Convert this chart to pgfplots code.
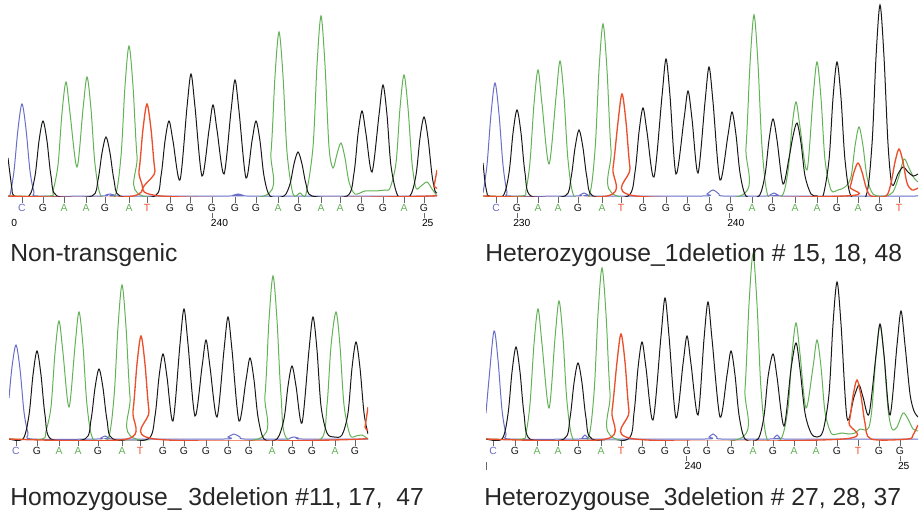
\documentclass[border=0pt]{standalone}
\usepackage{fontspec}
\setmainfont{Liberation Sans}
\usepackage{pgfplots}
\pgfplotsset{compat=1.18}
\definecolor{cA}{RGB}{100,178,88}
\definecolor{cC}{RGB}{105,110,200}
\definecolor{cG}{RGB}{25,25,25}
\definecolor{cT}{RGB}{235,80,45}
\newcommand\lA{\textcolor{cA}{A}}
\newcommand\lC{\textcolor{cC}{C}}
\newcommand\lG{\textcolor{cG}{G}}
\newcommand\lT{\textcolor{cT}{T}}
\pgfplotsset{panel/.style={x=0.75pt,y=0.75pt,ymin=-1,anchor=south west,
  axis line style={draw=none},ytick=\empty,xtick pos=left,tick align=outside,
  major tick length=4.5pt,xtick style={black!60,line width=0.5pt},
  xticklabel style={font=\fontsize{7.8}{8}\selectfont,inner sep=0pt,yshift=-1pt},
  clip=true,
  every axis plot/.append style={line width=0.75pt,smooth,tension=0.5,no marks}},
  redtrace/.style={cT,line width=1pt}}
\begin{document}
\begin{tikzpicture}
% ---------------- Panel 1 ----------------
\begin{axis}[panel,at={(6pt,237.75pt)},xmin=8,xmax=437,ymax=196,
  xtick={22,43,64,86,105,129,147,170,190,212,235,256,278,298,321,340,361,383,404,424},
  xticklabels={\lC,\lG,\lA,\lA,\lG,\lA,\lT,\lG,\lG,\lG,\lG,\lG,\lA,\lG,\lA,\lA,\lG,\lG,\lA,\lG}]
\addplot[cC] coordinates {(8,0)(10,1)(14,25)(18,67)(22,92)(26,67)(30,25)(34,4)(38,0)(102,0)(106,1)(110,2)(114,1)(118,0)(230,0)(234,1)(238,2)(242,1)(246,0)(437,0)};
\addplot[cA] coordinates {(8,0)(50,0)(53,5)(58,31)(62,83)(66,114)(70,83)(77,29)(83,87)(87,119)(91,87)(95,32)(101,0)(115,0)(121,40)(125,110)(129,150)(133,110)(137,40)(143,0)(264,0)(271,44)(275,120)(279,164)(283,120)(287,44)(293,2)(300,3)(306,2)(313,49)(317,131)(321,180)(325,131)(329,49)(333,28)(337,42)(341,53)(345,38)(349,14)(355,2)(365,5)(375,5)(385,6)(390,8)(396,33)(400,88)(404,121)(408,88)(412,33)(416,8)(421,10)(427,14)(432,7)(437,0)};
\addplot[cG] coordinates {(8,38)(10,22)(12,7)(14,0)(29,0)(35,20)(39,55)(43,75)(47,55)(51,20)(57,0)(92,0)(98,16)(102,43)(106,59)(110,43)(114,16)(120,0)(155,0)(161,20)(165,55)(169,75)(173,55)(180,16)(187,89)(191,122)(195,89)(202,20)(209,66)(213,91)(217,66)(224,22)(231,85)(235,116)(239,85)(246,18)(252,55)(256,75)(260,55)(264,20)(270,0)(284,0)(290,12)(294,32)(298,44)(302,32)(306,12)(312,0)(347,0)(354,23)(358,62)(362,85)(366,62)(372,24)(379,81)(383,111)(387,81)(391,30)(398,0)(410,0)(416,21)(420,58)(424,79)(428,58)(432,21)(435,5)(437,3)};
\addplot[redtrace] coordinates {(8,0)(133,0)(139,25)(143,67)(147,92)(151,67)(155,25)(161,0)(431,0)(434,10)(437,26)};
\end{axis}
% ---------------- Panel 2 ----------------
\begin{axis}[panel,at={(362.25pt,237.75pt)},xmin=483,xmax=918,ymax=196,
  xtick={496,517,538,558,578,602,621,643,666,687,709,730,752,772,795,817,837,858,879,899},
  xticklabels={\lC,\lG,\lA,\lA,\lG,\lA,\lT,\lG,\lG,\lG,\lG,\lG,\lA,\lG,\lA,\lA,\lG,\lA,\lG,\lT}]
\addplot[cC] coordinates {(483,3)(487,31)(491,82)(495,113)(499,82)(503,31)(507,4)(511,0)(576,0)(580,1)(584,3)(588,1)(592,0)(703,0)(707,2)(713,6)(719,2)(723,0)(766,0)(770,1)(774,3)(778,1)(782,0)(918,0)};
\addplot[cA] coordinates {(483,0)(522,0)(526,6)(530,34)(534,92)(538,126)(542,92)(549,32)(556,99)(560,135)(564,99)(568,36)(574,0)(589,0)(595,46)(599,126)(603,172)(607,126)(611,46)(617,0)(740,0)(746,49)(750,132)(754,181)(758,132)(762,49)(768,0)(782,0)(788,25)(792,69)(796,94)(800,69)(807,26)(813,98)(817,134)(821,98)(825,36)(831,6)(838,6)(845,9)(851,19)(855,50)(859,69)(863,50)(867,19)(873,2)(885,0)(893,4)(899,20)(904,37)(909,28)(914,18)(918,14)};
\addplot[cG] coordinates {(483,33)(485,14)(487,3)(489,0)(503,0)(509,23)(513,63)(517,86)(521,63)(525,23)(531,0)(565,0)(571,18)(575,48)(579,66)(583,48)(587,18)(593,0)(628,0)(635,24)(639,64)(643,88)(647,64)(654,19)(662,100)(666,137)(670,100)(676,22)(684,77)(688,105)(692,77)(698,23)(705,94)(709,129)(713,94)(720,16)(728,61)(732,84)(736,61)(740,23)(746,0)(759,0)(765,21)(769,56)(773,77)(777,56)(783,12)(789,38)(793,60)(797,73)(801,53)(805,20)(811,2)(817,0)(823,0)(829,36)(833,98)(837,134)(841,98)(845,36)(851,0)(866,0)(872,52)(876,139)(880,191)(884,139)(888,52)(892,11)(898,22)(903,29)(908,24)(913,20)(918,22)};
\addplot[redtrace] coordinates {(483,0)(607,0)(613,28)(618,74)(622,102)(626,74)(630,28)(636,0)(845,0)(850,9)(854,24)(858,33)(862,24)(866,9)(871,0)(886,0)(891,13)(895,34)(899,47)(903,34)(907,13)(912,6)(918,8)};
\end{axis}
% ---------------- Panel 3 ----------------
\begin{axis}[panel,at={(6.75pt,55.5pt)},xmin=9,xmax=368,ymax=200,
  xtick={16,37,59,78,98,122,140,163,184,206,228,249,272,292,312,335,355},
  xticklabels={\lC,\lG,\lA,\lA,\lG,\lA,\lT,\lG,\lG,\lG,\lG,\lG,\lA,\lG,\lG,\lA,\lG}]
\addplot[cC] coordinates {(9,41)(12,72)(16,94)(20,70)(24,27)(28,6)(32,0)(97,0)(101,1)(105,3)(109,1)(113,0)(224,0)(228,2)(234,5)(240,2)(244,0)(286,0)(290,1)(294,2)(298,1)(302,0)(368,0)};
\addplot[cA] coordinates {(9,0)(42,0)(46,8)(51,32)(55,86)(59,118)(63,86)(69,32)(75,93)(79,127)(83,93)(87,34)(93,0)(108,0)(114,42)(118,112)(122,154)(126,112)(130,42)(136,0)(258,0)(265,44)(269,119)(273,163)(277,119)(281,44)(287,0)(321,0)(327,34)(331,93)(336,127)(340,93)(344,34)(350,4)(356,3)(362,4)(368,0)};
\addplot[cG] coordinates {(9,0)(23,0)(29,24)(33,64)(37,88)(41,64)(45,24)(51,0)(85,0)(91,19)(95,51)(99,70)(103,51)(107,19)(113,0)(148,0)(155,23)(159,62)(163,85)(167,62)(173,18)(180,95)(184,130)(188,95)(195,23)(202,72)(206,99)(210,72)(217,22)(224,89)(228,122)(232,89)(239,18)(246,59)(250,81)(254,59)(258,22)(264,0)(277,0)(284,20)(288,53)(292,73)(296,53)(302,16)(309,89)(313,122)(317,89)(321,33)(327,6)(334,2)(342,4)(348,26)(352,71)(356,97)(360,71)(364,26)(368,5)};
\addplot[redtrace] coordinates {(9,0)(127,0)(133,28)(137,75)(141,103)(145,75)(149,28)(155,0)(362,0)(365,12)(368,32)};
\end{axis}
% ---------------- Panel 4 ----------------
\begin{axis}[panel,at={(364.5pt,55.5pt)},xmin=486,xmax=918,ymax=200,
  xtick={493,515,537,558,578,601,621,642,665,687,707,731,753,773,794,816,837,858,879,900},
  xticklabels={\lC,\lG,\lA,\lA,\lG,\lA,\lT,\lG,\lG,\lG,\lG,\lG,\lA,\lG,\lA,\lA,\lG,\lT,\lG,\lG}]
\addplot[cC] coordinates {(486,26)(489,60)(494,108)(498,79)(502,29)(506,5)(510,0)(579,0)(582,1)(585,4)(588,1)(591,0)(705,0)(709,2)(713,5)(717,2)(721,0)(770,0)(774,1)(777,4)(780,1)(784,0)(918,0)};
\addplot[cA] coordinates {(486,0)(522,0)(526,6)(530,35)(534,95)(538,130)(542,95)(549,31)(555,101)(559,138)(563,101)(567,37)(573,0)(588,0)(594,46)(598,125)(602,171)(606,125)(610,46)(616,0)(739,0)(745,50)(749,135)(753,185)(757,135)(761,50)(767,0)(781,0)(788,31)(792,85)(796,116)(800,85)(806,31)(813,72)(817,99)(821,72)(825,27)(831,6)(837,5)(842,6)(849,5)(855,6)(860,10)(865,9)(869,12)(872,31)(876,83)(880,114)(884,83)(888,30)(892,10)(897,12)(903,26)(908,20)(913,10)(918,8)};
\addplot[cG] coordinates {(486,0)(502,0)(508,25)(512,67)(516,92)(520,67)(524,25)(530,0)(564,0)(570,21)(574,56)(578,76)(582,56)(586,21)(592,0)(628,0)(634,26)(638,71)(642,97)(646,71)(653,19)(661,103)(665,141)(669,103)(676,21)(683,75)(687,103)(691,75)(698,24)(704,100)(708,137)(712,100)(720,22)(727,64)(731,88)(735,64)(739,24)(745,0)(758,0)(764,23)(768,62)(773,85)(777,62)(784,13)(791,70)(796,96)(800,70)(805,26)(811,6)(817,2)(823,8)(829,45)(833,115)(837,157)(841,115)(847,21)(854,42)(859,54)(863,42)(869,25)(876,84)(880,115)(884,84)(890,24)(897,94)(901,128)(905,94)(910,45)(914,28)(918,22)};
\addplot[redtrace] coordinates {(486,0)(606,0)(612,28)(617,77)(621,105)(625,77)(629,28)(635,0)(843,0)(849,16)(853,43)(857,59)(861,43)(865,16)(871,0)(908,0)(913,4)(918,14)};
\end{axis}
% ---------------- position numbers ----------------
\begin{scope}[every node/.style={font=\fontsize{7.7}{8}\selectfont,inner sep=0pt,anchor=west}]
\node at (8.25pt,218.25pt) {0};
\node at (158pt,218.25pt) {240};
\node at (316.3pt,218.25pt) {25};
\node at (384.75pt,218.25pt) {230};
\node at (545.25pt,218.25pt) {240};
\node at (513.2pt,36pt) {240};
\node at (673.3pt,36pt) {25};
\end{scope}
\begin{scope}[black!60,line width=0.5pt]
\draw (159.2pt,225.75pt)--(159.2pt,222pt);
\draw (318pt,225.75pt)--(318pt,222pt);
\draw (387.75pt,225.75pt)--(387.75pt,222pt);
\draw (547.3pt,225.75pt)--(547.3pt,222pt);
\draw (515pt,43.5pt)--(515pt,39.75pt);
\draw (675pt,43.5pt)--(675pt,39.75pt);
\draw (364.5pt,39pt)--(364.5pt,33pt);
\end{scope}
% ---------------- titles ----------------
\begin{scope}[every node/.style={font=\fontsize{18.5}{20}\selectfont,inner sep=0pt,anchor=base west,text=black!85}]
\node at (7.5pt,189pt) {Non-transgenic};
\node at (363.75pt,189pt) {Heterozygouse\_1deletion \# 15, 18, 48};
\node at (7.5pt,6.75pt) {Homozygouse\_ 3deletion \#11, 17,~~47};
\node at (363pt,6.75pt) {Heterozygouse\_3deletion \# 27, 28, 37};
\end{scope}
\pgfresetboundingbox
\path[use as bounding box] (0,0) rectangle (689.25pt,385.5pt);
\end{tikzpicture}
\end{document}
